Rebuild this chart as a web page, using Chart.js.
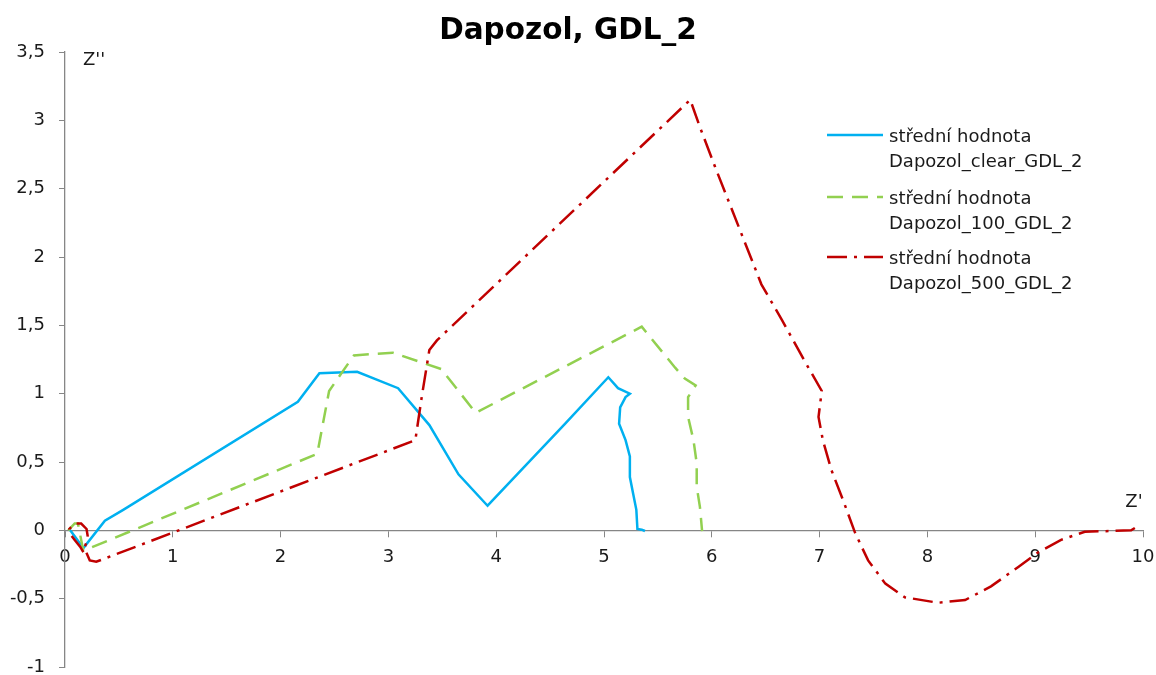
<!DOCTYPE html>
<html>
<head>
<meta charset="utf-8">
<title>Dapozol, GDL_2</title>
<script src="https://cdn.jsdelivr.net/npm/chart.js@4.4.1/dist/chart.umd.min.js"></script>
<style>
  html, body { margin: 0; padding: 0; background: #fff; }
  #wrap { width: 1156px; height: 675px; position: relative; }
</style>
</head>
<body>
<div id="wrap"><canvas id="chart"></canvas></div>
<script>
// === DATA ===
const chartTitle = "Dapozol, GDL_2";
const seriesNames = [
  ["střední hodnota", "Dapozol_clear_GDL_2"],
  ["střední hodnota", "Dapozol_100_GDL_2"],
  ["střední hodnota", "Dapozol_500_GDL_2"]
];

// Dapozol_clear_GDL_2
const clearX = [0.04, 0.17, 0.37, 0.54, 2.16, 2.36, 2.71, 3.09, 3.38, 3.65, 3.92, 4.64, 5.04, 5.13, 5.24, 5.20, 5.15, 5.14, 5.20, 5.24, 5.24, 5.27, 5.30, 5.31, 5.35, 5.38];
const clearY = [0.01, -0.13, 0.07, 0.15, 0.94, 1.15, 1.16, 1.04, 0.77, 0.41, 0.18, 0.78, 1.12, 1.04, 1.00, 0.975, 0.90, 0.78, 0.66, 0.54, 0.39, 0.27, 0.15, 0.01, 0.005, -0.005];

// Dapozol_100_GDL_2
const d100X = [0.03, 0.09, 0.12, 0.17, 2.34, 2.45, 2.68, 3.04, 3.49, 3.81, 5.35, 5.66, 5.75, 5.85, 5.78, 5.78, 5.83, 5.86, 5.86, 5.89, 5.91];
const d100Y = [0.00, 0.05, 0.05, -0.15, 0.56, 1.02, 1.28, 1.30, 1.18, 0.86, 1.49, 1.19, 1.11, 1.06, 0.975, 0.83, 0.66, 0.49, 0.32, 0.17, -0.005];

// Dapozol_500_GDL_2
const d500X = [0.17, 0.14, 0.09, 0.06, 0.04, 0.09, 0.15, 0.20, 0.21, 0.20, 0.18, 0.23, 0.29, 3.25, 3.31, 3.38, 3.45, 5.80, 5.89, 6.03, 6.19, 6.46, 6.65, 6.86, 7.02, 6.99, 7.03, 7.11, 7.23, 7.33, 7.45, 7.61, 7.79, 8.10, 8.35, 8.59, 8.84, 9.03, 9.24, 9.46, 9.70, 9.89, 9.93, 9.96];
const d500Y = [-0.16, -0.12, -0.07, -0.04, 0.01, 0.05, 0.05, 0.01, -0.04, -0.085, -0.13, -0.22, -0.23, 0.66, 0.98, 1.32, 1.39, 3.15, 2.95, 2.66, 2.34, 1.80, 1.54, 1.24, 1.02, 0.83, 0.66, 0.44, 0.195, -0.02, -0.22, -0.39, -0.49, -0.53, -0.51, -0.41, -0.27, -0.16, -0.07, -0.01, -0.005, 0.00, 0.02, 0.00];

// axes
const xMin = 0, xMax = 10, xStep = 1;
const yMin = -1, yMax = 3.5, yStep = 0.5;
const xAxisTitle = "Z'";
const yAxisTitle = "Z''";

// === STYLE ===
const colors = ["#00B0F0", "#92D050", "#C00000"];
const dashes = [[], [16, 9], [20, 7, 3, 7]];
const axisColor = "#868686";
const textColor = "#1a1a1a";
const fontFamily = "'DejaVu Sans', sans-serif";

function toPoints(xs, ys) {
  return xs.map((x, i) => ({ x: x, y: ys[i] }));
}

// titulek, popisky os a legenda
const overlayPlugin = {
  id: "overlay",
  afterDraw(chart) {
    const ctx = chart.ctx;
    const xs = chart.scales.x, ys = chart.scales.y;
    const zeroY = ys.getPixelForValue(0);
    ctx.save();

    // titulek
    ctx.fillStyle = "#000";
    ctx.font = "bold 29.5px " + fontFamily;
    ctx.textAlign = "center";
    ctx.textBaseline = "alphabetic";
    ctx.fillText(chartTitle, 568, 39);

    // popisky os
    ctx.fillStyle = textColor;
    ctx.font = "18px " + fontFamily;
    ctx.textAlign = "left";
    ctx.textBaseline = "middle";
    ctx.fillText(yAxisTitle, ys.right + 18, ys.getPixelForValue(yMax) + 8);
    ctx.textAlign = "center";
    ctx.fillText(xAxisTitle, xs.getPixelForValue(xMax) - 9, zeroY - 28);

    // legenda
    const lineX0 = 827, lineX1 = 883, textX = 889;
    const rowY = [135, 197, 257];
    rowY.forEach((y, i) => {
      ctx.beginPath();
      ctx.strokeStyle = colors[i];
      ctx.lineWidth = 2.5;
      ctx.setLineDash(dashes[i]);
      ctx.moveTo(lineX0, y);
      ctx.lineTo(lineX1, y);
      ctx.stroke();
      ctx.setLineDash([]);
      ctx.fillStyle = textColor;
      ctx.textAlign = "left";
      ctx.fillText(seriesNames[i][0], textX, y + 2);
      ctx.fillText(seriesNames[i][1], textX, y + 27);
    });
    ctx.restore();
  }
};

function buildChart() {
  const ctx = document.getElementById("chart");
  const sets = [
    [clearX, clearY],
    [d100X, d100Y],
    [d500X, d500Y]
  ];

  new Chart(ctx, {
    type: "scatter",
    data: {
      datasets: sets.map((s, i) => ({
        label: seriesNames[i].join(" "),
        data: toPoints(s[0], s[1]),
        showLine: true,
        borderColor: colors[i],
        backgroundColor: colors[i],
        borderWidth: 2.5,
        borderDash: dashes[i],
        pointRadius: 0,
        tension: 0,
        order: 3 - i
      }))
    },
    options: {
      responsive: false,
      animation: false,
      layout: { padding: { top: 52, right: 13, bottom: 8, left: 0 } },
      plugins: {
        legend: { display: false },
        title: { display: false },
        tooltip: { enabled: false }
      },
      scales: {
        x: {
          type: "linear",
          position: { y: 0 },
          min: xMin,
          max: xMax,
          afterFit(scale) {
            scale.height = 0;
            scale.paddingLeft = 0;
            scale.paddingRight = 0;
          },
          grid: { drawOnChartArea: false, color: axisColor, tickLength: 6 },
          border: { color: axisColor, width: 1.3 },
          ticks: {
            stepSize: xStep,
            color: textColor,
            padding: 10,
            maxRotation: 0,
            font: { family: fontFamily, size: 18 }
          }
        },
        y: {
          type: "linear",
          position: "left",
          min: yMin,
          max: yMax,
          afterFit(scale) {
            scale.width = 65;
            scale.paddingTop = 0;
            scale.paddingBottom = 0;
          },
          grid: { drawOnChartArea: false, color: axisColor, tickLength: 6 },
          border: { color: axisColor, width: 1.3 },
          ticks: {
            stepSize: yStep,
            color: textColor,
            padding: 14,
            font: { family: fontFamily, size: 18, lineHeight: 1 },
            callback: v => String(v).replace(".", ",")
          }
        }
      }
    },
    plugins: [overlayPlugin]
  });
}

document.getElementById("chart").width = 1156;
document.getElementById("chart").height = 675;
document.addEventListener("DOMContentLoaded", buildChart);
</script>
</body>
</html>
